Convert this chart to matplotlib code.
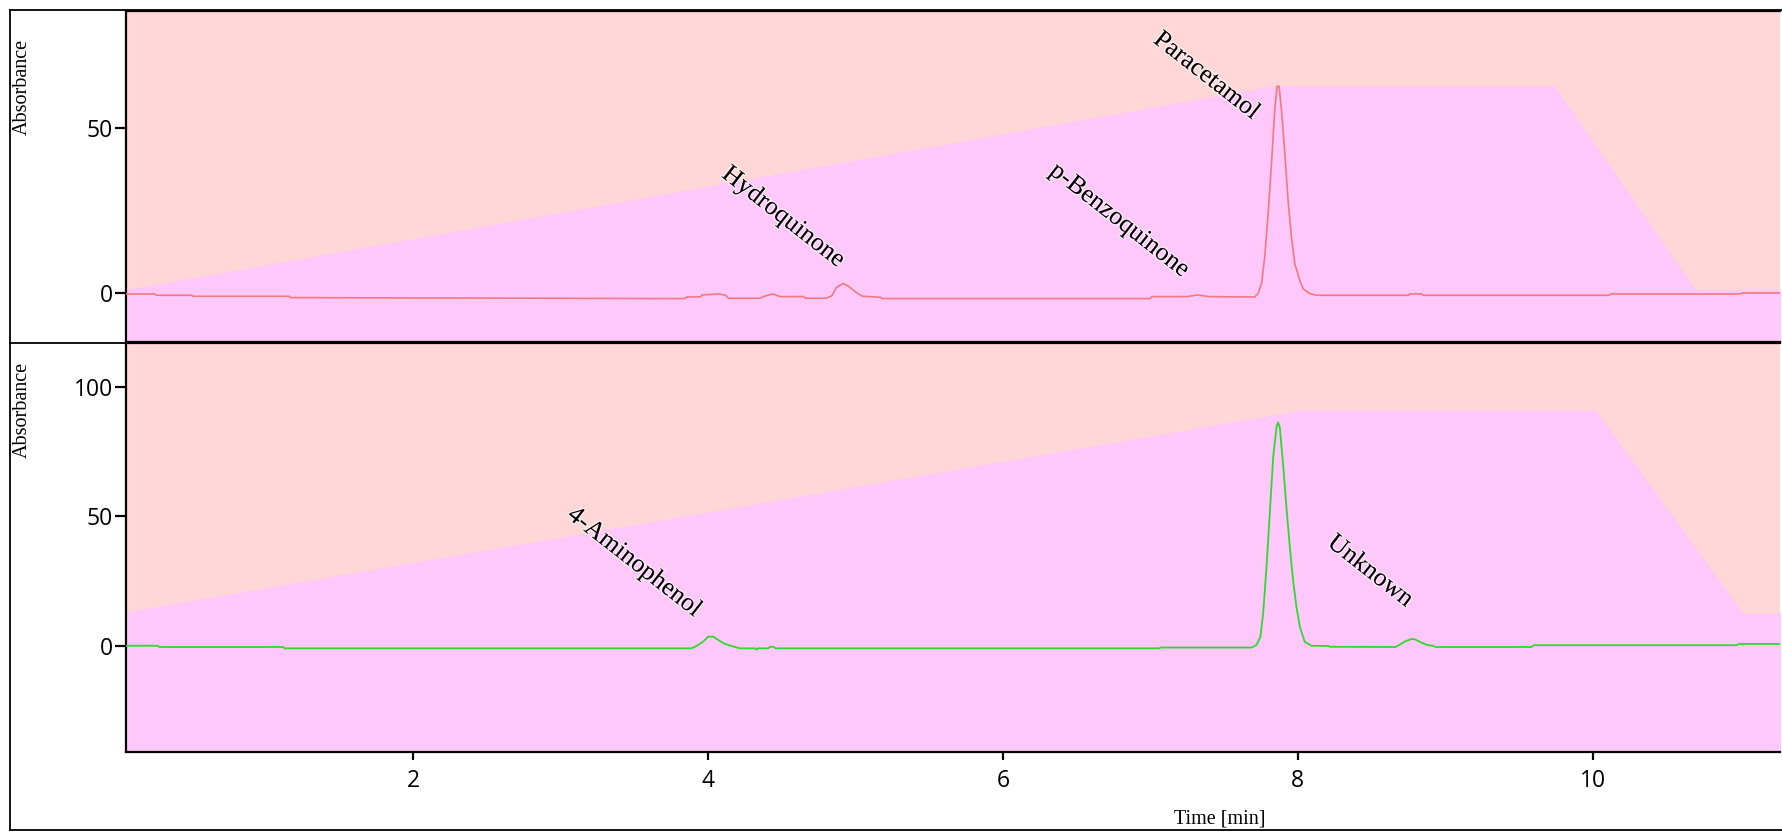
import matplotlib
matplotlib.use("Agg")
import matplotlib.pyplot as plt
import matplotlib.patheffects as pe
from matplotlib.lines import Line2D

# ---------------- data ----------------
# upper chromatogram (red)
top_t = [0.054, 0.25, 0.26, 0.50, 0.51, 1.16, 1.17, 2.0, 3.0, 3.61, 3.84, 3.86, 3.95,
         3.96, 4.075, 4.12, 4.14, 4.22, 4.35, 4.39, 4.44, 4.49, 4.65, 4.66, 4.80, 4.84,
         4.87, 4.917, 4.96, 5.01, 5.05, 5.17, 5.18, 6.0, 7.00, 7.01, 7.25, 7.32, 7.40,
         7.60, 7.708, 7.731, 7.754, 7.776, 7.799, 7.822, 7.844, 7.860, 7.873, 7.889,
         7.912, 7.934, 7.957, 7.980, 8.014, 8.036, 8.081, 8.127, 8.75, 8.76, 8.84, 8.85,
         10.11, 10.125, 11.0, 11.015, 11.3]
top_v = [-0.2, -0.2, -0.6, -0.6, -0.9, -0.9, -1.3, -1.4, -1.5, -1.6, -1.6, -1.1, -1.1,
         -0.5, -0.2, -0.6, -1.5, -1.5, -1.5, -0.8, -0.2, -1.0, -1.0, -1.5, -1.5, -0.8,
         1.7, 3.0, 1.9, 0.1, -0.9, -1.2, -1.6, -1.6, -1.6, -1.0, -1.0, -0.5, -1.0,
         -1.1, -1.1, -0.1, 2.9, 11.0, 24.1, 39.3, 55.5, 62.5, 62.5, 55.5,
         42.4, 28.1, 17.0, 8.9, 3.9, 1.4, -0.1, -0.6, -0.6, -0.2, -0.2, -0.6,
         -0.6, -0.2, -0.2, 0.1, 0.1]

# lower chromatogram (green)
bot_t = [0.054, 0.27, 0.28, 1.12, 1.13, 3.889, 3.923, 3.968, 4.002, 4.036, 4.070, 4.115,
         4.161, 4.217, 4.319, 4.330, 4.341, 4.41, 4.42, 4.442, 4.461, 7.06, 7.07, 7.686,
         7.720, 7.747, 7.765, 7.788, 7.810, 7.833, 7.856, 7.866, 7.878, 7.900, 7.923,
         7.946, 7.968, 7.991, 8.014, 8.047, 8.093, 8.21, 8.22, 8.66, 8.680, 8.725, 8.771,
         8.793, 8.839, 8.883, 8.917, 8.936, 9.584, 9.600, 10.974, 10.992, 11.3]
bot_v = [0.1, 0.1, -0.4, -0.4, -0.9, -0.9, 0.0, 1.7, 3.6, 3.6, 2.3, 0.8,
         0.0, -0.9, -0.9, -1.4, -0.9, -0.9, -0.3, -0.3, -0.9, -0.9, -0.6, -0.6,
         0.4, 3.6, 12.6, 30.5, 51.0, 72.8, 84.4, 86.3, 84.4, 70.3, 53.6,
         38.2, 25.4, 15.1, 7.4, 1.6, 0.1, 0.0, -0.3, -0.4, 0.1, 1.7, 2.7,
         2.6, 1.3, 0.3, 0.1, -0.4, -0.4, 0.3, 0.3, 0.8, 0.8]

# solvent gradient profiles drawn as background
top_grad_t = [0.0, 7.84, 9.74, 10.70, 11.3]
top_grad_v = [0.7, 62.7, 62.7, 1.0, 1.0]
bot_grad_t = [0.0, 8.02, 10.02, 11.02, 11.3]
bot_grad_v = [12.7, 91.0, 91.0, 12.7, 12.7]

# peak labels: (name, time, absorbance)
top_labels = ["Paracetamol", "Hydroquinone", "p-Benzoquinone"]
top_label_t = [7.38, 4.51, 6.79]
top_label_v = [65.5, 22.9, 21.9]
bot_labels = ["4-Aminophenol", "Unknown"]
bot_label_t = [3.50, 8.49]
bot_label_v = [32.2, 28.7]

top_yticks = [0, 50]
bot_yticks = [0, 50, 100]
xticks = [2, 4, 6, 8, 10]

# ---------------- style ----------------
W, H = 1782, 832
BG_UP = "#FFD7D7"
BG_LOW = "#FFC8FA"
RED = "#EE7A82"
GREEN = "#2FD82F"
SERIF = "Liberation Serif"
SANS = "Open Sans"

fig = plt.figure(figsize=(W / 100, H / 100), dpi=100)
fig.patch.set_facecolor("white")

def fx(px):
    return px / W

def fy(py):
    return 1 - py / H

xlim = (0.054, 11.27)
top_ylim = (-14.7, 85.2)
bot_ylim = (-40.9, 116.9)

ax1 = fig.add_axes([fx(126), fy(342), fx(1780) - fx(126), fy(11) - fy(342)])
ax2 = fig.add_axes([fx(126), fy(752), fx(1780) - fx(126), fy(343) - fy(752)])

for ax, gt, gv, ylim in [(ax1, top_grad_t, top_grad_v, top_ylim),
                         (ax2, bot_grad_t, bot_grad_v, bot_ylim)]:
    ax.set_facecolor(BG_UP)
    ax.fill_between(gt, ylim[0] - 50, gv, color=BG_LOW, lw=0, zorder=1)
    ax.set_xlim(*xlim)
    ax.set_ylim(*ylim)
    for s in ["left", "bottom", "top"]:
        ax.spines[s].set_linewidth(1.6)
        ax.spines[s].set_color("black")
    ax.spines["right"].set_visible(False)
    ax.tick_params(axis="y", direction="out", length=8, width=1.6, pad=1.5,
                   labelsize=16.5)

ax1.plot(top_t, top_v, color=RED, lw=1.2, zorder=3)
ax2.plot(bot_t, bot_v, color=GREEN, lw=1.3, zorder=3)

ax1.set_yticks(top_yticks)
ax2.set_yticks(bot_yticks)
ax1.set_xticks([])
ax2.set_xticks(xticks)
ax2.tick_params(axis="x", direction="out", length=6, width=1.6, pad=6, labelsize=16.5)
for ax in (ax1, ax2):
    for lab in ax.get_yticklabels() + ax.get_xticklabels():
        lab.set_fontfamily(SANS)
        lab.set_fontsize(16.5)

halo = [pe.withStroke(linewidth=2.0, foreground="white", alpha=0.6)]
for name, t, v in zip(top_labels, top_label_t, top_label_v):
    ax1.text(t, v, name, rotation=-38, ha="center", va="center", fontsize=18.5,
             family=SERIF, color="black", zorder=5, path_effects=halo)
for name, t, v in zip(bot_labels, bot_label_t, bot_label_v):
    ax2.text(t, v, name, rotation=-38, ha="center", va="center", fontsize=18.5,
             family=SERIF, color="black", zorder=5, path_effects=halo)

fig.text(fx(22), fy(87), "Absorbance", rotation=90, ha="center", va="center",
         fontsize=14.5, family=SERIF)
fig.text(fx(22), fy(410), "Absorbance", rotation=90, ha="center", va="center",
         fontsize=14.5, family=SERIF)
fig.text(fx(1220), fy(819), "Time [min]", ha="center", va="center",
         fontsize=14.5, family=SERIF)

# outer frame
frame_kw = dict(transform=fig.transFigure, color="black", lw=1.3)
fig.add_artist(Line2D([fx(10), fx(10)], [fy(830), fy(10)], **frame_kw))
fig.add_artist(Line2D([fx(10), fx(1782)], [fy(10), fy(10)], **frame_kw))
fig.add_artist(Line2D([fx(10), fx(1782)], [fy(830), fy(830)], **frame_kw))
fig.add_artist(Line2D([fx(10), fx(126)], [fy(342.5), fy(342.5)], **frame_kw))

fig.savefig("out.png", dpi=100)
